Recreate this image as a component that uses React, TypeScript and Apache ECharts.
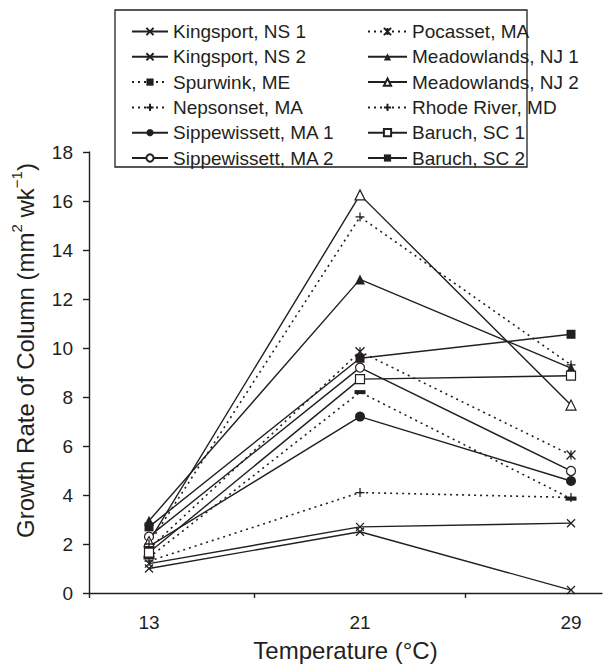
import React, { useEffect, useRef } from "react";
import * as echarts from "echarts";

const temps = [13, 21, 29];
const tickPositions = [10.725, 17, 25];

const kingsportNS1 = [1.0, 2.5, 0.12];
const kingsportNS2 = [1.2, 2.7, 2.85];
const spurwinkME = [1.45, 8.2, 3.85];
const nepsonsetMA = [1.3, 4.1, 3.9];
const sippewissettMA1 = [1.9, 7.2, 4.57];
const sippewissettMA2 = [2.3, 9.2, 4.98];
const pocassetMA = [1.8, 9.85, 5.63];
const meadowlandsNJ1 = [2.95, 12.8, 9.18];
const meadowlandsNJ2 = [2.1, 16.25, 7.67];
const rhodeRiverMD = [2.0, 15.35, 9.31];
const baruchSC1 = [1.65, 8.73, 8.87];
const baruchSC2 = [2.7, 9.58, 10.56];

const INK = "#231f20";
const FONT = "'Liberation Sans', Arial, Helvetica, sans-serif";

const X_PATH = "path://M0,0L10,10M10,0L0,10";
const PLUS_PATH = "path://M5,0L5,10M0,5L10,5";
const STAR_PATH = "path://M0,0L10,10M10,0L0,10M5,0L5,10";

type Def = {
  name: string;
  values: number[];
  dotted: boolean;
  symbol: string;
  kind: "stroke" | "filled" | "open";
  size: number | number[];
};

const defs: Def[] = [
  { name: "Kingsport, NS 1", values: kingsportNS1, dotted: false, symbol: X_PATH, kind: "stroke", size: 8 },
  { name: "Kingsport, NS 2", values: kingsportNS2, dotted: false, symbol: X_PATH, kind: "stroke", size: 8 },
  { name: "Spurwink, ME", values: spurwinkME, dotted: true, symbol: "rect", kind: "filled", size: [11, 4] },
  { name: "Nepsonset, MA", values: nepsonsetMA, dotted: true, symbol: PLUS_PATH, kind: "stroke", size: 9 },
  { name: "Sippewissett, MA 1", values: sippewissettMA1, dotted: false, symbol: "circle", kind: "filled", size: 10 },
  { name: "Sippewissett, MA 2", values: sippewissettMA2, dotted: false, symbol: "circle", kind: "open", size: 9 },
  { name: "Pocasset, MA", values: pocassetMA, dotted: true, symbol: STAR_PATH, kind: "stroke", size: 9 },
  { name: "Meadowlands, NJ 1", values: meadowlandsNJ1, dotted: false, symbol: "triangle", kind: "filled", size: 10 },
  { name: "Meadowlands, NJ 2", values: meadowlandsNJ2, dotted: false, symbol: "triangle", kind: "open", size: 10 },
  { name: "Rhode River, MD", values: rhodeRiverMD, dotted: true, symbol: PLUS_PATH, kind: "stroke", size: 9 },
  { name: "Baruch, SC 1", values: baruchSC1, dotted: false, symbol: "rect", kind: "open", size: 9 },
  { name: "Baruch, SC 2", values: baruchSC2, dotted: false, symbol: "rect", kind: "filled", size: 9 },
];

export default function App() {
  const ref = useRef<HTMLDivElement>(null);
  useEffect(() => {
    if (!ref.current) return;
    const chart = echarts.init(ref.current, null, { renderer: "svg" });
    const series = defs.map((d) => ({
      name: d.name,
      type: "line",
      data: d.values.map((v, i) => [temps[i], v]),
      symbol: d.symbol,
      symbolSize: d.size,
      showAllSymbol: true,
      lineStyle: {
        color: INK,
        width: d.dotted ? 1.6 : 1.4,
        type: d.dotted ? [2, 4] : "solid",
      },
      itemStyle:
        d.kind === "filled"
          ? { color: INK, borderColor: INK, borderWidth: 0 }
          : d.kind === "open"
          ? { color: "#ffffff", borderColor: INK, borderWidth: 1.2 }
          : { color: "none", borderColor: INK, borderWidth: 1.3 },
      emphasis: { disabled: true },
      z: 2,
    }));
    const legendText = { fontSize: 19, color: INK, fontFamily: FONT, lineHeight: 19 };
    chart.setOption({
      animation: false,
      backgroundColor: "#ffffff",
      textStyle: { fontFamily: FONT, color: INK },
      grid: { left: 89, right: 6, top: 152, bottom: 71, outerBoundsMode: "none", containLabel: false },
      xAxis: {
        type: "value",
        min: 10.725,
        max: 30.175,
        name: "Temperature (°C)",
        nameLocation: "middle",
        nameGap: 45,
        nameTextStyle: { fontSize: 24, color: INK, fontFamily: FONT },
        axisLine: { lineStyle: { color: INK, width: 1.4 } },
        axisTick: { show: true, customValues: tickPositions, length: 5, lineStyle: { color: INK, width: 1.4 } },
        axisLabel: { customValues: temps, fontSize: 19, color: INK, margin: 20, fontFamily: FONT },
        splitLine: { show: false },
      },
      yAxis: {
        type: "value",
        min: 0,
        max: 18,
        interval: 2,
        name: "{a|Growth Rate of Column (mm}{s|2}{a| wk}{s|−1}{a|)}",
        nameLocation: "middle",
        nameGap: 52,
        nameTextStyle: {
          padding: [0, 0, 0, 44],
          rich: {
            a: { fontSize: 24, color: INK, fontFamily: FONT, lineHeight: 28, verticalAlign: "bottom" },
            s: { fontSize: 15, color: INK, fontFamily: FONT, lineHeight: 28, verticalAlign: "top" },
          },
        },
        axisLine: { show: true, lineStyle: { color: INK, width: 1.4 } },
        axisTick: { show: true, length: 6, lineStyle: { color: INK, width: 1.4 } },
        axisLabel: { fontSize: 19, color: INK, margin: 16, fontFamily: FONT },
        splitLine: { show: false },
      },
      legend: [
        {
          data: defs.slice(0, 6).map((d) => d.name),
          orient: "vertical",
          left: 126,
          top: 17,
          itemWidth: 36,
          itemHeight: 9,
          itemGap: 6.3,
          selectedMode: false,
          textStyle: legendText,
        },
        {
          data: defs.slice(6).map((d) => d.name),
          orient: "vertical",
          left: 362,
          top: 17,
          itemWidth: 39,
          itemHeight: 9,
          itemGap: 6.3,
          selectedMode: false,
          textStyle: legendText,
        },
      ],
      graphic: [
        {
          type: "rect",
          shape: { x: 115, y: 10, width: 412, height: 157 },
          style: { fill: "none", stroke: INK, lineWidth: 1.3 },
          silent: true,
        },
      ],
      series,
    });
    return () => chart.dispose();
  }, []);
  return (
    <div
      ref={ref}
      style={{ position: "fixed", left: 0, top: 0, width: 608, height: 664, background: "#fff" }}
    />
  );
}
